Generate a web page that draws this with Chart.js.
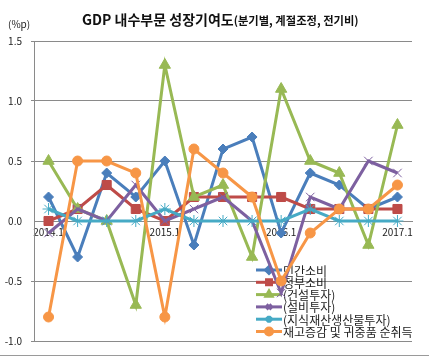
<!DOCTYPE html>
<html>
<head>
<meta charset="utf-8">
<script src="https://cdn.jsdelivr.net/npm/chart.js@4/dist/chart.umd.min.js"></script>
<style>
  body { margin: 0; background: #fff; }
  #wrap { position: relative; width: 429px; height: 361px; font-family: "Noto Sans CJK KR", sans-serif; }
  #title { position: absolute; left: 82px; top: 6px; white-space: nowrap; color: #111; }
  #title .main { font-size: 14px; font-weight: bold; }
  #title .sub { font-size: 11.3px; font-weight: bold; }
  #unit { position: absolute; left: 8px; top: 16px; font-size: 10px; color: #222; }
</style>
</head>
<body>
<div id="wrap">
  <canvas id="stage" width="429" height="361"></canvas>
  <div id="title"><span class="main">GDP 내수부문 성장기여도</span><span class="sub">(분기별, 계절조정, 전기비)</span></div>
  <div id="unit">(%p)</div>
</div>
<script>
const quarters = ['2014.1','2014.2','2014.3','2014.4','2015.1','2015.2','2015.3','2015.4','2016.1','2016.2','2016.3','2016.4','2017.1'];
const xTickLabels = ['2014.1','','','','2015.1','','','','2016.1','','','','2017.1'];
const yTicks = [-1.0, -0.5, 0.0, 0.5, 1.0, 1.5];

const seriesNames = ['민간소비','정부소비','(건설투자)','(설비투자)','(지식재산생산물투자)','재고증감 및 귀중품 순취득'];
const privCons = [0.2, -0.3, 0.4, 0.2, 0.5, -0.2, 0.6, 0.7, -0.1, 0.4, 0.3, 0.1, 0.2];
const govCons = [0.0, 0.1, 0.3, 0.1, 0.0, 0.2, 0.2, 0.2, 0.2, 0.1, 0.1, 0.1, 0.1];
const construction = [0.5, 0.1, 0.0, -0.7, 1.3, 0.2, 0.3, -0.3, 1.1, 0.5, 0.4, -0.2, 0.8];
const facility = [-0.1, 0.1, 0.0, 0.3, 0.0, 0.1, 0.2, 0.0, -0.6, 0.2, 0.1, 0.5, 0.4];
const intellectual = [0.1, 0.0, 0.0, 0.0, 0.1, 0.0, 0.0, 0.0, 0.0, 0.1, 0.0, 0.0, 0.0];
const inventory = [-0.8, 0.5, 0.5, 0.4, -0.8, 0.6, 0.4, 0.2, -0.5, -0.1, 0.1, 0.1, 0.3];

const colors = ['#4A7EBB','#BE4B48','#98B954','#7D60A0','#46AAC5','#F79646'];
const markers = ['rectRot','rect','triangle','crossRot','star','circle'];
const markerSize = [5, 6.4, 6.5, 6, 6, 5];
const allValues = [privCons, govCons, construction, facility, intellectual, inventory];

function makeSet(i) {
  return {
    label: seriesNames[i],
    data: allValues[i],
    borderColor: colors[i],
    backgroundColor: colors[i],
    borderWidth: 3,
    pointStyle: markers[i],
    pointRadius: markerSize[i],
    pointBorderWidth: 1,
    pointBackgroundColor: colors[i],
    pointBorderColor: colors[i],
    tension: 0,
    order: 5 - i
  };
}

// 범례 (그래프 안쪽 오른쪽 아래)
const innerLegend = {
  id: 'innerLegend',
  beforeDatasetsDraw(chart) {
    const ctx = chart.ctx;
    ctx.save();
    chart.data.datasets.forEach((ds, i) => {
      const y = 270 + i * 12.3;
      ctx.strokeStyle = ds.borderColor;
      ctx.lineWidth = 3;
      ctx.beginPath();
      ctx.moveTo(256, y);
      ctx.lineTo(282, y);
      ctx.stroke();
      ctx.fillStyle = ds.borderColor;
      Chart.helpers.drawPoint(ctx, {pointStyle: ds.pointStyle, radius: 3.5, rotation: 0, borderWidth: 1}, 269, y);
      ctx.fillStyle = '#222';
      ctx.font = '12px "Noto Sans CJK KR"';
      ctx.textBaseline = 'middle';
      ctx.textAlign = 'left';
      ctx.fillText(ds.label, 283, y + 1);
    });
    ctx.restore();
  },
  afterDraw(chart) {
    const ctx = chart.ctx;
    ctx.save();
    ctx.strokeStyle = '#9a9a9a';
    ctx.lineWidth = 1;
    ctx.beginPath();
    ctx.moveTo(0, 355.5);
    ctx.lineTo(429, 355.5);
    ctx.stroke();
    ctx.restore();
  }
};

new Chart(document.getElementById('stage'), {
  type: 'line',
  data: {
    labels: quarters,
    datasets: seriesNames.map((n, i) => makeSet(i))
  },
  options: {
    responsive: false,
    animation: false,
    layout: { padding: { top: 41, bottom: 20, right: 17, left: 0 } },
    plugins: {
      legend: { display: false },
      tooltip: { enabled: false }
    },
    scales: {
      x: {
        position: { y: 0 },
        offset: true,
        grid: { display: false, drawTicks: false, offset: true },
        border: { color: '#8a8a8a', width: 1 },
        ticks: {
          autoSkip: false,
          maxRotation: 0,
          padding: 5,
          color: '#222',
          font: { family: 'Noto Sans CJK KR', size: 10 },
          callback: (v, i) => xTickLabels[i]
        }
      },
      y: {
        min: -1.0,
        max: 1.5,
        afterFit: s => { s.width = 34; },
        afterBuildTicks: s => { s.ticks = yTicks.map(v => ({ value: v })); },
        grid: { color: c => c.tick.value === 0 ? 'rgba(0,0,0,0)' : '#8a8a8a', tickLength: 3 },
        border: { color: '#8a8a8a' },
        ticks: {
          padding: 9,
          color: '#222',
          font: { family: 'Noto Sans CJK KR', size: 10 },
          callback: v => v.toFixed(1)
        }
      }
    }
  },
  plugins: [innerLegend]
});
</script>
</body>
</html>
